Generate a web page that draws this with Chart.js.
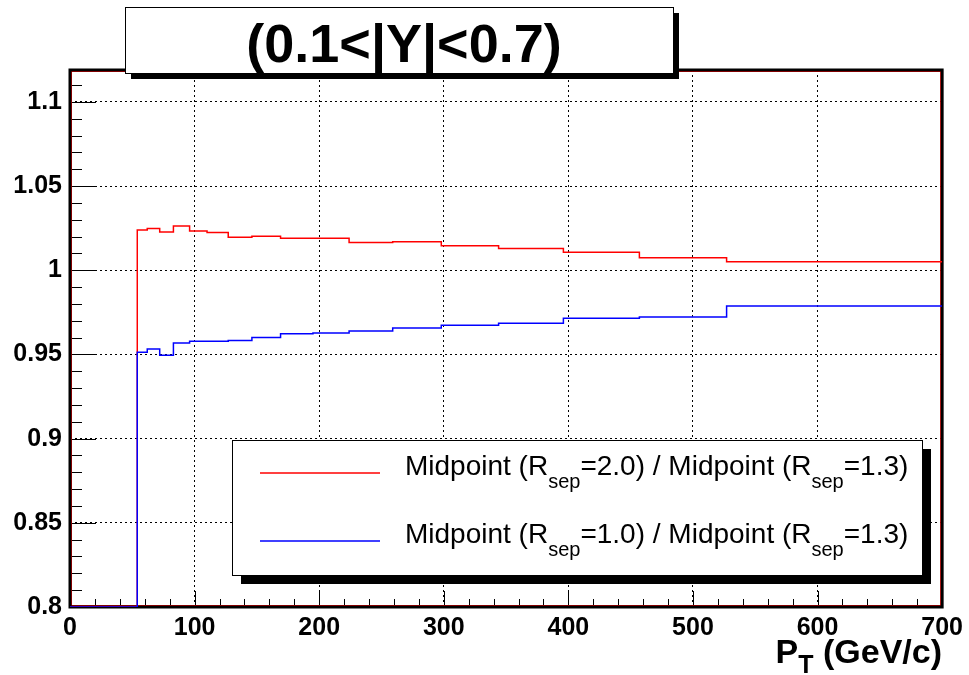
<!DOCTYPE html>
<html>
<head>
<meta charset="utf-8">
<script src="https://cdn.jsdelivr.net/npm/chart.js@4/dist/chart.umd.min.js"></script>
<style>
  body { margin: 0; background: #fff; }
  canvas { display: block; }
</style>
</head>
<body>
<canvas id="c" width="969" height="675"></canvas>
<script>
// histogram bin edges (GeV/c) and contents
const binEdges = [0, 54, 62, 72, 83, 96, 110, 127, 146, 169, 195, 224, 259, 298, 344, 396, 457, 527, 700];
const ratio20 = [0.8, 1.0239, 1.0249, 1.0227, 1.0264, 1.0233, 1.0225, 1.0197, 1.0203, 1.0190, 1.0191, 1.0166, 1.0170, 1.0146, 1.0130, 1.0107, 1.0075, 1.0051];
const ratio10 = [0.8, 0.9514, 0.9532, 0.9496, 0.9568, 0.9579, 0.9579, 0.9583, 0.9601, 0.9623, 0.9627, 0.9639, 0.9658, 0.9674, 0.9686, 0.9716, 0.9723, 0.9788];

const xTicks = [0, 100, 200, 300, 400, 500, 600, 700];
const xTickLabels = ['0', '100', '200', '300', '400', '500', '600', '700'];
const yTicks = [0.8, 0.85, 0.9, 0.95, 1.0, 1.05, 1.1];
const yTickLabels = ['0.8', '0.85', '0.9', '0.95', '1', '1.05', '1.1'];

const titleText = '(0.1<|Y|<0.7)';
// legend entries: [text, isSubscript]
const legendRed = [['Midpoint (R', 0], ['sep', 1], ['=2.0) / Midpoint (R', 0], ['sep', 1], ['=1.3)', 0]];
const legendBlue = [['Midpoint (R', 0], ['sep', 1], ['=1.0) / Midpoint (R', 0], ['sep', 1], ['=1.3)', 0]];
const xTitle = [['P', 0], ['T', 1], [' (GeV/c)', 0]];

const FONT = '"Liberation Sans", Arial, Helvetica, sans-serif';

function histPoints(edges, vals) {
  let pts = vals.map((v, i) => ({ x: edges[i], y: v }));
  pts.push({ x: edges[edges.length - 1], y: vals[vals.length - 1] });
  return pts;
}

function drawParts(ctx, parts, x, y, size, subSize, subDrop, bold) {
  let w = bold ? 'bold ' : '';
  parts.forEach(p => {
    ctx.font = w + (p[1] ? subSize : size) + 'px ' + FONT;
    ctx.fillText(p[0], x, y + (p[1] ? subDrop : 0));
    x += ctx.measureText(p[0]).width;
  });
  return x;
}
function partsWidth(ctx, parts, size, subSize, bold) {
  let w = 0, b = bold ? 'bold ' : '';
  parts.forEach(p => {
    ctx.font = b + (p[1] ? subSize : size) + 'px ' + FONT;
    w += ctx.measureText(p[0]).width;
  });
  return w;
}

const rootDecor = {
  id: 'rootDecor',
  beforeDatasetsDraw(chart) {
    const ctx = chart.ctx, a = chart.chartArea;
    const xs = chart.scales.x, ys = chart.scales.y;
    ctx.save();
    // inside tick marks
    ctx.strokeStyle = '#000';
    ctx.lineWidth = 1;
    ctx.beginPath();
    for (let v = 0; v <= 700; v += 20) {
      let px = Math.round(xs.getPixelForValue(v)) + 0.5;
      let len = v % 100 === 0 ? 16 : 8;
      ctx.moveTo(px, a.bottom); ctx.lineTo(px, a.bottom - len);
    }
    for (let i = 0; i <= 31; i++) {
      let v = 0.8 + i * 0.01;
      let py = Math.round(ys.getPixelForValue(v)) + 0.5;
      let len = i % 5 === 0 ? 26 : 12;
      ctx.moveTo(a.left, py); ctx.lineTo(a.left + len, py);
    }
    ctx.stroke();
    // frame: thin red frame line under thick black axes
    ctx.lineWidth = 1;
    ctx.strokeStyle = '#ff0000';
    ctx.strokeRect(a.left + 1.5, a.top + 1.5, a.right - a.left - 3, a.bottom - a.top - 3);
    ctx.lineWidth = 3;
    ctx.strokeStyle = '#000';
    ctx.strokeRect(a.left, a.top, a.right - a.left, a.bottom - a.top);
    ctx.restore();
  },
  afterDraw(chart) {
    const ctx = chart.ctx;
    ctx.save();
    // title box with shadow
    ctx.fillStyle = '#000';
    ctx.fillRect(131, 13, 548, 66);
    ctx.fillStyle = '#fff';
    ctx.fillRect(125, 7, 548, 66);
    ctx.strokeStyle = '#000';
    ctx.lineWidth = 1;
    ctx.strokeRect(125.5, 7.5, 548, 66);
    ctx.fillStyle = '#000';
    ctx.font = 'bold 54px ' + FONT;
    ctx.textAlign = 'center';
    ctx.textBaseline = 'alphabetic';
    ctx.fillText(titleText, 404, 62);

    // legend box with shadow
    ctx.fillRect(241, 449, 690, 135);
    ctx.fillStyle = '#fff';
    ctx.fillRect(232, 440, 690, 135);
    ctx.strokeRect(232.5, 440.5, 690, 135);
    const ds = chart.data.datasets;
    const rows = [[legendRed, 473, ds[0].borderColor], [legendBlue, 541, ds[1].borderColor]];
    ctx.textAlign = 'left';
    rows.forEach(r => {
      ctx.strokeStyle = r[2];
      ctx.lineWidth = 1.5;
      ctx.beginPath();
      ctx.moveTo(260, r[1]); ctx.lineTo(380, r[1]);
      ctx.stroke();
      ctx.fillStyle = '#000';
      drawParts(ctx, r[0], 405, r[1] + 2, 28, 20, 13, false);
    });

    // x axis title, right aligned
    const w = partsWidth(ctx, xTitle, 34, 25, true);
    drawParts(ctx, xTitle, 942 - w, 663, 34, 25, 10, true);
    ctx.restore();
  }
};

new Chart(document.getElementById('c'), {
  type: 'line',
  data: {
    datasets: [
      { label: 'R2.0/R1.3', data: histPoints(binEdges, ratio20), borderColor: '#ff0000', borderWidth: 1.5, stepped: 'before', pointRadius: 0, fill: false, order: 2 },
      { label: 'R1.0/R1.3', data: histPoints(binEdges, ratio10), borderColor: '#0000ff', borderWidth: 1.5, stepped: 'before', pointRadius: 0, fill: false, order: 1 }
    ]
  },
  options: {
    responsive: false,
    animation: false,
    layout: { padding: { top: 70, right: 26, left: 0, bottom: 0 } },
    plugins: { legend: { display: false }, tooltip: { enabled: false } },
    scales: {
      x: {
        type: 'linear', min: 0, max: 700,
        afterBuildTicks: s => { s.ticks = xTicks.map(v => ({ value: v })); },
        afterFit: s => { s.height = 68; },
        ticks: {
          callback: (v) => xTickLabels[xTicks.indexOf(v)],
          font: { family: FONT, size: 25, weight: 'bold' }, color: '#000', padding: 6, maxRotation: 0
        },
        grid: {
          drawTicks: false,
          color: c => (c.tick && (c.tick.value === 0 || c.tick.value === 700)) ? 'rgba(0,0,0,0)' : '#000',
          lineWidth: 1
        },
        border: { display: false, dash: [2, 3] }
      },
      y: {
        type: 'linear', min: 0.8, max: 1.119,
        afterBuildTicks: s => { s.ticks = yTicks.map(v => ({ value: v })); },
        afterFit: s => { s.width = 70; },
        ticks: {
          callback: (v) => yTickLabels[yTicks.findIndex(t => Math.abs(t - v) < 1e-6)],
          font: { family: FONT, size: 25, weight: 'bold' }, color: '#000', padding: 8
        },
        grid: {
          drawTicks: false,
          color: c => (c.tick && Math.abs(c.tick.value - 0.8) < 1e-6) ? 'rgba(0,0,0,0)' : '#000',
          lineWidth: 1
        },
        border: { display: false, dash: [2, 3] }
      }
    }
  },
  plugins: [rootDecor]
});
</script>
</body>
</html>
